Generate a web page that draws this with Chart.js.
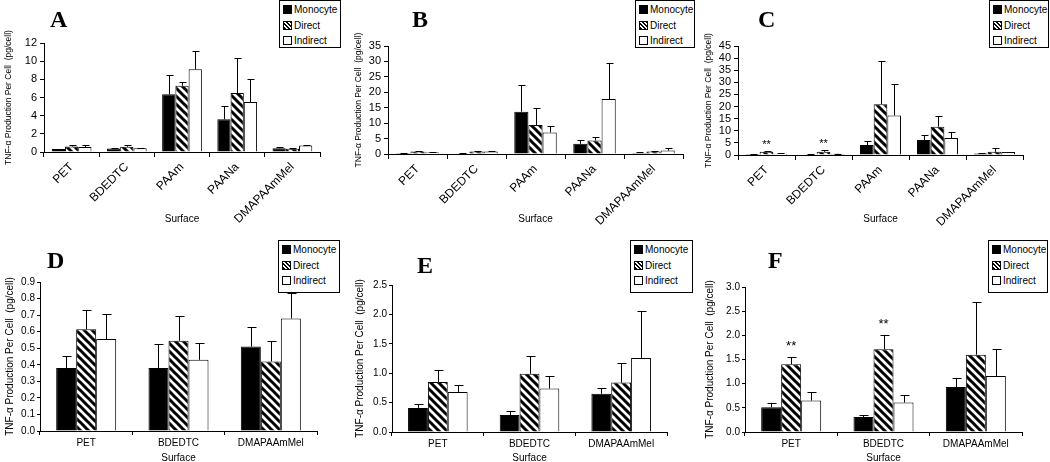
<!DOCTYPE html>
<html>
<head>
<meta charset="utf-8">
<script src="https://cdn.jsdelivr.net/npm/chart.js@4.4.1/dist/chart.umd.min.js"></script>
<style>
  body { margin: 0; background: #fff; width: 1050px; height: 462px; overflow: hidden; position: relative;
         font-family: "Liberation Sans", Arial, sans-serif; }
  .panel { position: absolute; }
  .panel canvas { position: absolute; left: 0; top: 0; }
  .letter { position: absolute; font: bold 24px/24px "Liberation Serif", "Times New Roman", serif; color: #000; }
  .legend { position: absolute; border: 1px solid #000; background: #fff; font-size: 10px; box-sizing: border-box; padding-top: 1px; }
  .legend div { height: 15.5px; line-height: 15.5px; padding-left: 3px; white-space: nowrap; color: #000; }
  .legend span { display: inline-block; width: 7px; height: 7px; border: 1px solid #000; margin-right: 2px; vertical-align: -1px; }
  .sw-mono { background: #000; }
  .sw-direct { background: repeating-linear-gradient(45deg, #000 0 1.5px, #fff 1.5px 3px); }
  .sw-indirect { background: #fff; }
</style>
</head>
<body>

<div class="panel" id="pA" style="left:0;top:0;width:350px;height:230px"><canvas id="cA" width="350" height="230"></canvas></div>
<div class="panel" id="pB" style="left:350px;top:0;width:350px;height:230px"><canvas id="cB" width="350" height="230"></canvas></div>
<div class="panel" id="pC" style="left:700px;top:0;width:350px;height:230px"><canvas id="cC" width="350" height="230"></canvas></div>
<div class="panel" id="pD" style="left:0;top:230px;width:350px;height:232px"><canvas id="cD" width="350" height="232"></canvas></div>
<div class="panel" id="pE" style="left:350px;top:230px;width:350px;height:232px"><canvas id="cE" width="350" height="232"></canvas></div>
<div class="panel" id="pF" style="left:700px;top:230px;width:350px;height:232px"><canvas id="cF" width="350" height="232"></canvas></div>

<script>
// surfaces and series
const surfacesTop = ['PET', 'BDEDTC', 'PAAm', 'PAANa', 'DMAPAAmMel'];
const surfacesBottom = ['PET', 'BDEDTC', 'DMAPAAmMel'];
const seriesNames = ['Monocyte', 'Direct', 'Indirect'];

// panel A  (mean, +error)
const monoA = [0.33, 0.38, 6.35, 3.6, 0.4];
const monoA_err = [0.05, 0.05, 2.1, 1.5, 0.15];
const directA = [0.6, 0.58, 7.3, 6.5, 0.35];
const directA_err = [0.12, 0.14, 0.45, 3.9, 0.05];
const indirectA = [0.55, 0.42, 9.1, 5.5, 0.72];
const indirectA_err = [0.17, 0.03, 2.05, 2.5, 0.06];

// panel B
const monoB = [0.3, 0.2, 13.7, 3.3, 0.35];
const monoB_err = [0.1, 0.1, 8.7, 1.3, 0.2];
const directB = [0.85, 0.85, 9.4, 4.4, 0.8];
const directB_err = [0.2, 0.15, 5.6, 1.2, 0.2];
const indirectB = [0.6, 0.85, 7.0, 17.8, 1.1];
const indirectB_err = [0.1, 0.1, 2.0, 11.6, 0.9];

// panel C
const monoC = [0.4, 0.25, 4.1, 6.2, 0.6];
const monoC_err = [0.1, 0.05, 1.6, 2.2, 0.2];
const directC = [1.3, 1.3, 21.0, 11.7, 1.3];
const directC_err = [0.3, 0.8, 17.7, 4.5, 1.5];
const indirectC = [0.55, 0.5, 16.3, 7.0, 1.2];
const indirectC_err = [0.1, 0.1, 12.9, 2.4, 0.2];
const starsC = [1, 1, 0, 0, 0];

// panel D
const monoD = [0.38, 0.38, 0.51];
const monoD_err = [0.075, 0.145, 0.12];
const directD = [0.615, 0.545, 0.42];
const directD_err = [0.115, 0.15, 0.125];
const indirectD = [0.555, 0.43, 0.68];
const indirectD_err = [0.15, 0.1, 0.155];

// panel E
const monoE = [0.41, 0.29, 0.65];
const monoE_err = [0.07, 0.06, 0.09];
const directE = [0.85, 0.99, 0.84];
const directE_err = [0.2, 0.31, 0.34];
const indirectE = [0.68, 0.74, 1.26];
const indirectE_err = [0.12, 0.22, 0.8];

// panel F
const monoF = [0.51, 0.31, 0.93];
const monoF_err = [0.09, 0.04, 0.18];
const directF = [1.40, 1.71, 1.60];
const directF_err = [0.15, 0.29, 1.08];
const indirectF = [0.65, 0.61, 1.16];
const indirectF_err = [0.17, 0.16, 0.55];
const starsF = [1, 1, 0];

const yTitle = 'TNF-\u03b1 Production Per Cell  (pg/cell)';
const FONT = '"Liberation Sans", Arial, sans-serif';

// diagonal stripes for the "Direct" bars
function hatch() {
  const c = document.createElement('canvas');
  c.width = 8; c.height = 8;
  const g = c.getContext('2d');
  g.fillStyle = '#fff'; g.fillRect(0, 0, 8, 8);
  g.strokeStyle = '#000'; g.lineWidth = 3;
  g.beginPath();
  g.moveTo(-2, -2); g.lineTo(10, 10);
  g.moveTo(-2, 6); g.lineTo(2, 10);
  g.moveTo(6, -2); g.lineTo(10, 2);
  g.stroke();
  return g.createPattern(c, 'repeat');
}
const HATCH = hatch();

const errorBars = {
  id: 'errorBars',
  afterDatasetsDraw(chart, args, opts) {
    const ctx = chart.ctx, y = chart.scales.y;
    ctx.save();
    ctx.strokeStyle = '#000'; ctx.lineWidth = 1;
    ctx.fillStyle = '#000';
    ctx.font = opts.starFont + 'px ' + FONT;
    ctx.textAlign = 'center'; ctx.textBaseline = 'middle';
    chart.data.datasets.forEach((ds, i) => {
      chart.getDatasetMeta(i).data.forEach((bar, j) => {
        const top = Math.round(y.getPixelForValue(ds.data[j] + ds.errors[j])) + 0.5;
        const x = Math.round(bar.x) + 0.5;
        ctx.beginPath();
        ctx.moveTo(x, bar.y); ctx.lineTo(x, top);
        ctx.moveTo(x - opts.cap, top); ctx.lineTo(x + opts.cap + 1, top);
        ctx.stroke();
        if (ds.stars && ds.stars[j]) ctx.fillText('**', bar.x, top - opts.starGap);
      });
    });
    ctx.restore();
  }
};

function legend(panelId, left, top, width, height) {
  const d = document.createElement('div');
  d.className = 'legend';
  d.style.cssText = `left:${left}px;top:${top}px;width:${width}px;height:${height}px`;
  const cls = ['sw-mono', 'sw-direct', 'sw-indirect'];
  d.innerHTML = seriesNames.map((n, i) => `<div><span class="${cls[i]}"></span>${n}</div>`).join('');
  document.getElementById(panelId).appendChild(d);
}

function letter(panelId, txt, left, top) {
  const d = document.createElement('div');
  d.className = 'letter';
  d.textContent = txt;
  d.style.left = left + 'px'; d.style.top = top + 'px';
  document.getElementById(panelId).appendChild(d);
}

function barChart(canvasId, cats, means, errs, stars, c) {
  const canvas = document.getElementById(canvasId);
  const fills = ['#000', HATCH, '#fff'];
  new Chart(canvas, {
    type: 'bar',
    data: {
      labels: cats,
      datasets: means.map((m, i) => ({
        label: seriesNames[i],
        data: m,
        errors: errs[i],
        stars: i === 1 ? stars : null,
        backgroundColor: fills[i],
        borderColor: '#000',
        borderWidth: 1,
        categoryPercentage: c.catPct,
        barPercentage: 1.0
      }))
    },
    options: {
      responsive: false,
      animation: false,
      events: [],
      layout: { padding: { left: 0, top: c.area.top, right: canvas.width - c.area.right, bottom: 0 } },
      plugins: {
        legend: { display: false },
        tooltip: { enabled: false },
        errorBars: { cap: c.cap, starGap: c.starGap, starFont: c.starFont }
      },
      scales: {
        x: {
          afterFit: s => { s.height = canvas.height - c.area.bottom; },
          grid: { offset: true, drawOnChartArea: false, drawTicks: true, tickLength: c.xTick, color: '#000' },
          border: { color: '#000', width: 1 },
          ticks: {
            color: '#000', autoSkip: false,
            maxRotation: c.rotate, minRotation: c.rotate,
            padding: c.xPad,
            font: { family: FONT, size: c.xFont }
          },
          title: { display: true, text: 'Surface', color: '#000', padding: { top: 0, bottom: c.titlePadB },
                   font: { family: FONT, size: 10 } }
        },
        y: {
          min: 0, max: c.max,
          afterFit: s => { s.width = c.area.left; },
          grid: { drawOnChartArea: false, drawTicks: true, tickLength: c.yTick, color: '#000' },
          border: { color: '#000', width: 1 },
          ticks: {
            stepSize: c.step, autoSkip: false, color: '#000', padding: c.yPad,
            font: { family: FONT, size: c.yFont },
            callback: v => Number(v).toFixed(c.dec)
          },
          title: { display: true, text: yTitle, color: '#000', padding: { top: 4, bottom: 0 },
                   font: { family: FONT, size: c.titleFont } }
        }
      }
    },
    plugins: [errorBars]
  });
}

const topStyle = { catPct: 0.72, rotate: 45, xTick: 5, yTick: 4, xPad: 3, yPad: 3, xFont: 12, yFont: 11,
                   titleFont: 8.5, titlePadB: 5, cap: 3, starGap: 7, starFont: 11, dec: 0 };
const botStyle = { catPct: 0.65, rotate: 0, xTick: 4, yTick: 3, xPad: 2, yPad: 2, xFont: 10, yFont: 10,
                   titleFont: 10, titlePadB: -2, cap: 4, starGap: 11, starFont: 13, dec: 1 };

barChart('cA', surfacesTop, [monoA, directA, indirectA], [monoA_err, directA_err, indirectA_err], null,
  Object.assign({}, topStyle, { area: { left: 44, right: 320, top: 43, bottom: 152 }, max: 12, step: 2 }));
barChart('cB', surfacesTop, [monoB, directB, indirectB], [monoB_err, directB_err, indirectB_err], null,
  Object.assign({}, topStyle, { area: { left: 38, right: 333, top: 46, bottom: 154 }, max: 35, step: 5 }));
barChart('cC', surfacesTop, [monoC, directC, indirectC], [monoC_err, directC_err, indirectC_err], starsC,
  Object.assign({}, topStyle, { area: { left: 38, right: 323, top: 46, bottom: 155 }, max: 45, step: 5 }));
barChart('cD', surfacesBottom, [monoD, directD, indirectD], [monoD_err, directD_err, indirectD_err], null,
  Object.assign({}, botStyle, { area: { left: 40, right: 317, top: 52, bottom: 201 }, max: 0.9, step: 0.1 }));
barChart('cE', surfacesBottom, [monoE, directE, indirectE], [monoE_err, directE_err, indirectE_err], null,
  Object.assign({}, botStyle, { area: { left: 42, right: 317, top: 55, bottom: 202 }, max: 2.5, step: 0.5 }));
barChart('cF', surfacesBottom, [monoF, directF, indirectF], [monoF_err, directF_err, indirectF_err], starsF,
  Object.assign({}, botStyle, { area: { left: 45, right: 322, top: 57, bottom: 202 }, max: 3.0, step: 0.5 }));

letter('pA', 'A', 50, 7);
letter('pB', 'B', 62, 7);
letter('pC', 'C', 58, 7);
letter('pD', 'D', 47, 18);
letter('pE', 'E', 67, 23);
letter('pF', 'F', 68, 18);

legend('pA', 279, 0, 62, 48);
legend('pB', 285, 0, 60, 48);
legend('pC', 289, 0, 60, 48);
legend('pD', 278, 10, 62, 53);
legend('pE', 280, 10, 63, 53);
legend('pF', 288, 10, 60, 53);
</script>
</body>
</html>
